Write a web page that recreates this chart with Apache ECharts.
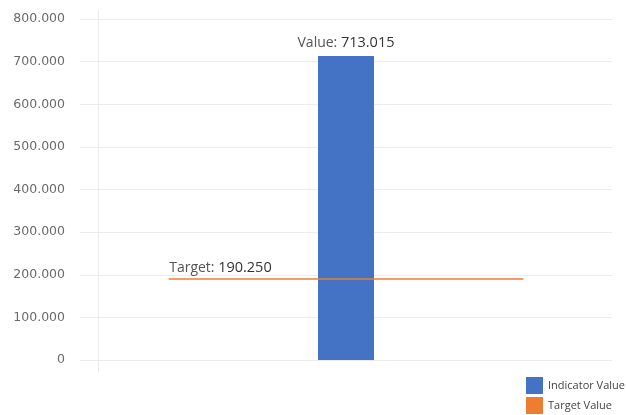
<!DOCTYPE html>
<html>
<head>
<meta charset="utf-8">
<script src="https://cdn.jsdelivr.net/npm/echarts@6/dist/echarts.min.js"></script>
<style>
  html, body { margin: 0; padding: 0; background: #fff; }
  #chart { width: 626px; height: 415px; }
</style>
</head>
<body>
<div id="chart"></div>
<script>
// Indicator vs. target
const categories = ['Indicator'];
const indicatorValues = [713015];
const targetValue = 190250;
// Horizontal extent of the target line on a hidden 0..6 helper axis
const targetSpan = [1, 5];
const yTicks = { min: 0, max: 800000, interval: 100000 };
const legendNames = ['Indicator Value', 'Target Value'];

// Period as thousands separator
function fmt(v) {
  return String(Math.round(v)).replace(/\B(?=(\d{3})+(?!\d))/g, '.');
}

const chart = echarts.init(document.getElementById('chart'), null, { renderer: 'canvas' });

chart.setOption({
  animation: false,
  textStyle: { fontFamily: 'Open Sans' },
  grid: { left: 80, right: 14, top: 19, bottom: 55 },
  legend: {
    orient: 'vertical',
    left: 526,
    top: 377,
    padding: 0,
    itemWidth: 17,
    itemHeight: 17,
    itemGap: 3,
    icon: 'rect',
    textStyle: { fontSize: 11, color: '#444', fontFamily: 'Open Sans' },
    data: legendNames
  },
  xAxis: [
    {
      type: 'category',
      data: categories,
      axisLine: { show: false },
      axisTick: { show: false },
      axisLabel: { show: false }
    },
    {
      type: 'value',
      min: 0,
      max: 6,
      show: false
    }
  ],
  yAxis: {
    type: 'value',
    min: yTicks.min,
    max: yTicks.max,
    interval: yTicks.interval,
    axisLine: { show: false },
    axisTick: { show: false },
    axisLabel: {
      margin: 15,
      color: '#6a6a6a',
      fontSize: 12.5,
      fontFamily: 'DejaVu Sans',
      formatter: fmt
    },
    splitLine: { lineStyle: { color: '#ececec', width: 1 } }
  },
  graphic: [
    {
      type: 'line',
      shape: { x1: 98.5, y1: 10, x2: 98.5, y2: 372 },
      style: { stroke: '#ececec', lineWidth: 1 },
      z: 0
    }
  ],
  series: [
    {
      name: legendNames[0],
      type: 'bar',
      xAxisIndex: 0,
      data: indicatorValues,
      barWidth: 56,
      itemStyle: { color: '#4472C4' },
      label: {
        show: true,
        position: 'top',
        distance: 6,
        align: 'center',
        fontSize: 14,
        fontFamily: 'Open Sans',
        formatter: p => '{a|Value: }{b|' + fmt(p.value) + '}',
        rich: {
          a: { color: '#555', fontSize: 14, fontFamily: 'Open Sans' },
          b: { color: '#333', fontSize: 14.5, fontFamily: 'Open Sans' }
        }
      },
      z: 2
    },
    {
      name: legendNames[1],
      type: 'line',
      xAxisIndex: 1,
      data: [[targetSpan[0], targetValue], [targetSpan[1], targetValue]],
      symbol: 'none',
      lineStyle: { color: '#ED7D31', width: 2, opacity: 0.75 },
      itemStyle: { color: '#ED7D31' },
      markPoint: {
        symbol: 'rect',
        symbolSize: 1,
        itemStyle: { color: 'transparent' },
        label: {
          show: true,
          position: 'right',
          offset: [-5, -11],
          fontSize: 14,
          fontFamily: 'Open Sans',
          formatter: () => '{a|Target: }{b|' + fmt(targetValue) + '}',
          rich: {
            a: { color: '#555', fontSize: 14, fontFamily: 'Open Sans' },
            b: { color: '#333', fontSize: 14.5, fontFamily: 'Open Sans' }
          }
        },
        data: [{ coord: [targetSpan[0], targetValue] }]
      },
      z: 3
    }
  ]
});
</script>
</body>
</html>
